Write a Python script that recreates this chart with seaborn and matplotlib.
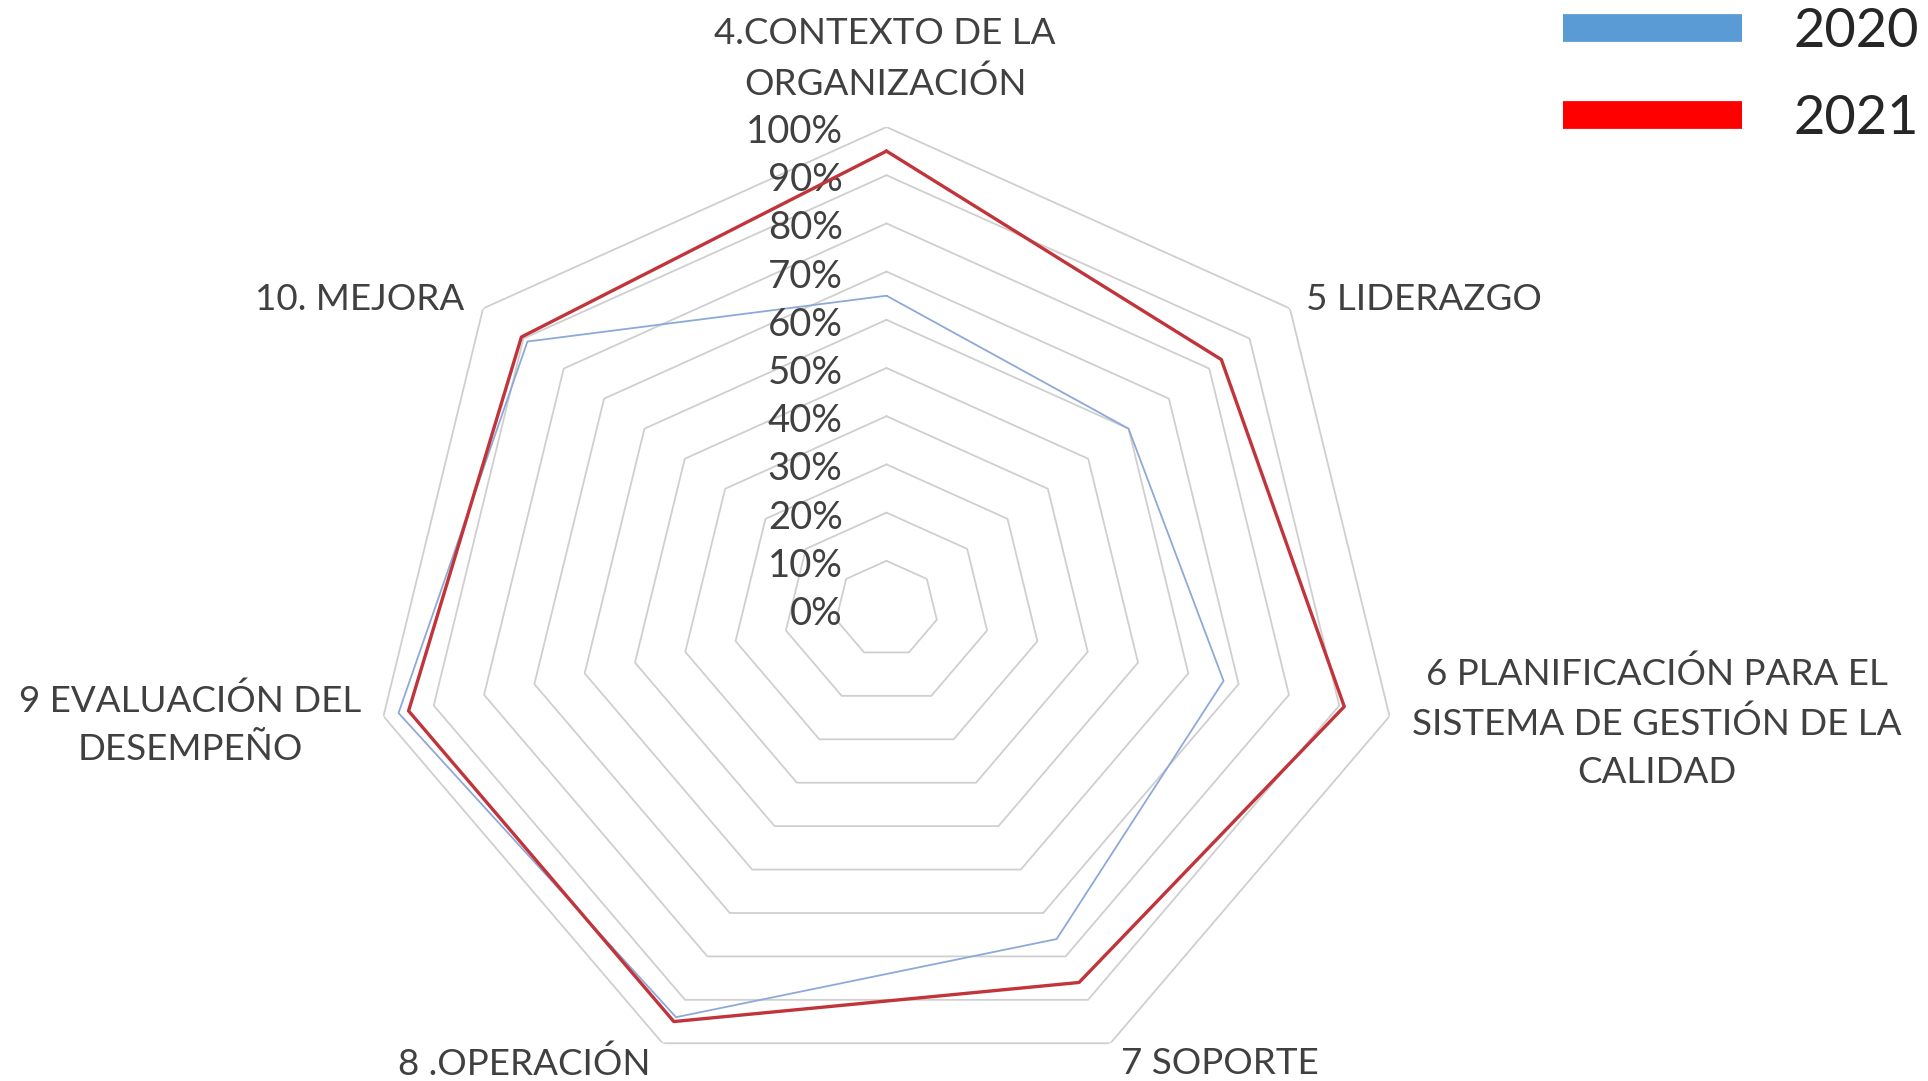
import numpy as np
import pandas as pd
import matplotlib
matplotlib.use("Agg")
from matplotlib import pyplot as plt
from matplotlib.lines import Line2D
import matplotlib.transforms as mtransforms
import seaborn as sns

# data
categories = ["4.CONTEXTO DE LA\nORGANIZACIÓN", "5 LIDERAZGO",
              "6 PLANIFICACIÓN PARA EL\nSISTEMA DE GESTIÓN DE LA\nCALIDAD",
              "7 SOPORTE", "8 .OPERACIÓN", "9 EVALUACIÓN DEL\nDESEMPEÑO", "10. MEJORA"]
values_2020 = [0.65, 0.60, 0.67, 0.76, 0.94, 0.97, 0.89]
values_2021 = [0.95, 0.83, 0.91, 0.86, 0.95, 0.95, 0.905]
ring_levels = [0.1, 0.2, 0.3, 0.4, 0.5, 0.6, 0.7, 0.8, 0.9, 1.0]
tick_labels = ["0%", "10%", "20%", "30%", "40%", "50%", "60%", "70%", "80%", "90%", "100%"]
years = ["2020", "2021"]

sns.set_theme(style="white")
plt.rcParams["font.family"] = ["Lato", "DejaVu Sans"]

W, H = 1928, 1081
fig = plt.figure(figsize=(W / 100, H / 100), dpi=100)
cx, cy, rx, ry = 886.5, 609, 516, 482
ax = fig.add_axes([(cx - rx) / W, (H - cy - ry) / H, 2 * rx / W, 2 * ry / H], projection="polar")
ax.set_theta_zero_location("N")
ax.set_theta_direction(-1)
ax.set_ylim(0, 1)
ax.set_aspect("auto")
ax.set_axis_off()

n = len(categories)
theta = np.linspace(0, 2 * np.pi, n, endpoint=False)
theta_c = np.append(theta, theta[0])

# heptagon grid
for lv in ring_levels:
    ax.plot(theta_c, [lv] * (n + 1), color="#CFCFCF", lw=1.3, zorder=1)

df = pd.DataFrame({
    "theta": np.concatenate([theta_c, theta_c]),
    "value": values_2020 + values_2020[:1] + values_2021 + values_2021[:1],
    "year": [years[0]] * (n + 1) + [years[1]] * (n + 1),
})
sns.lineplot(data=df[df.year == "2020"], x="theta", y="value", ax=ax, sort=False,
             estimator=None, color="#8EA9D8", lw=1.3, zorder=3, legend=False)
sns.lineplot(data=df[df.year == "2021"], x="theta", y="value", ax=ax, sort=False,
             estimator=None, color="#C0343A", lw=2.4, zorder=4, legend=False)
ax.set_ylim(0, 1)
ax.set_axis_off()

# percentage labels along the vertical axis
off = mtransforms.ScaledTranslation(-0.44, -0.05, fig.dpi_scale_trans)
for lv, lab in zip([0.0] + ring_levels, tick_labels):
    ax.text(0, lv, lab, transform=ax.transData + off, ha="right", va="center",
            fontsize=27.5, color="#404040")

# category labels
label_pos = [(885, 59, "center"), (1306, 300, "left"), (1657, 723, "center"),
             (1220, 1064, "center"), (524, 1064, "center"), (190, 725, "center"),
             (360, 300, "center")]
for lab, (px, py, ha) in zip(categories, label_pos):
    fig.text(px / W, 1 - py / H, lab, ha=ha, va="center", fontsize=26.5,
             color="#404040", linespacing=1.55)

handles = [Line2D([], [], color="#5B9BD5", lw=20, solid_capstyle="butt"),
           Line2D([], [], color="#FF0000", lw=20, solid_capstyle="butt")]
fig.legend(handles, years, loc="upper left", bbox_to_anchor=(1563 / W, 1 - 7 / H),
           frameon=False, fontsize=39, handlelength=3.3, handletextpad=0.95,
           labelspacing=0.7, borderpad=0, borderaxespad=0)

fig.savefig("out.png", dpi=100)
